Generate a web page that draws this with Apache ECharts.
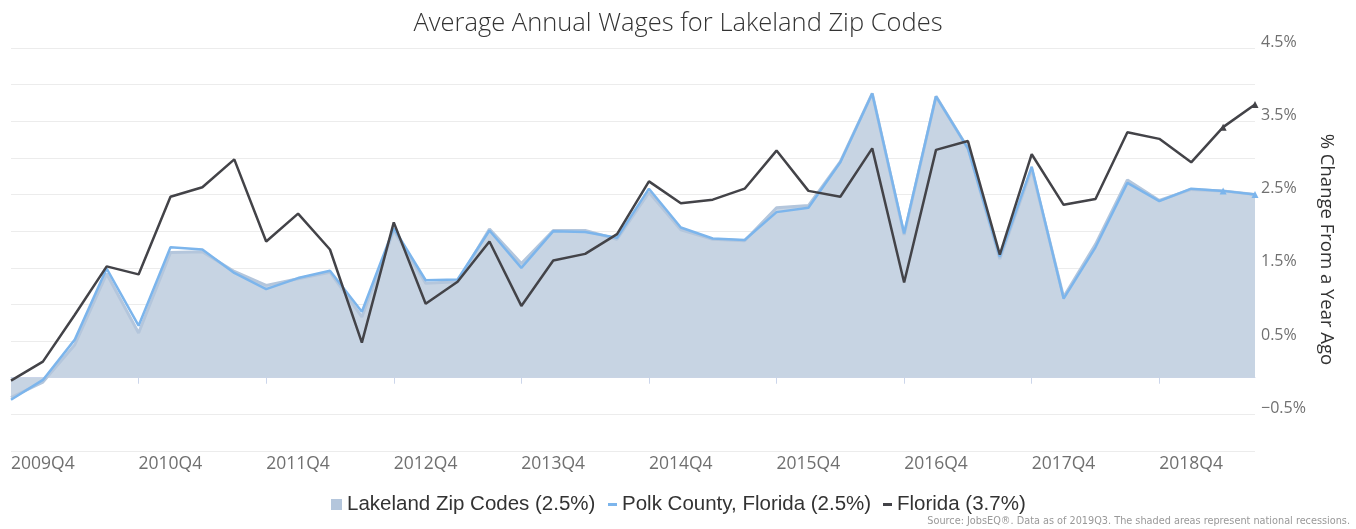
<html lang="en">
<head>
    <meta charset="UTF-8">
    <title>Average Annual Wages</title>
    <script src="https://cdn.jsdelivr.net/npm/echarts@6/dist/echarts.min.js"></script>
    <style type="text/css">
        html, body {
            margin: 0;
            padding: 0;
            background: #fff;
        }
        #main {
            width: 1356px;
            height: 529px;
        }
    </style>
</head>
<body>
<div id="main"></div>
<script>
    var quarters = [];
    for (var y = 2009; y <= 2019; y++) {
        for (var q = 1; q <= 4; q++) {
            if (y === 2009 && q < 4) continue;
            if (y === 2019 && q > 3) continue;
            quarters.push(y + 'Q' + q);
        }
    }

    var lakeland = [-0.27, -0.06, 0.45, 1.42, 0.61, 1.71, 1.72, 1.45, 1.26, 1.35,
        1.44, 0.83, 2.01, 1.29, 1.31, 2.03, 1.56, 2.01, 2.01, 1.89,
        2.53, 2.02, 1.89, 1.87, 2.32, 2.35, 2.95, 3.88, 1.95, 3.84,
        3.13, 1.62, 2.85, 1.10, 1.82, 2.70, 2.42, 2.57, 2.55, 2.50];
    var polk = [-0.30, -0.03, 0.52, 1.49, 0.71, 1.78, 1.75, 1.43, 1.21, 1.36,
        1.46, 0.90, 2.04, 1.33, 1.34, 2.01, 1.50, 2.00, 1.99, 1.91,
        2.58, 2.05, 1.90, 1.88, 2.26, 2.32, 2.94, 3.88, 1.97, 3.84,
        3.13, 1.65, 2.88, 1.08, 1.78, 2.66, 2.41, 2.58, 2.55, 2.50];
    var florida = [-0.04, 0.22, 0.86, 1.52, 1.41, 2.47, 2.60, 2.98, 1.86, 2.24,
        1.75, 0.48, 2.12, 1.01, 1.31, 1.86, 0.98, 1.60, 1.69, 1.96,
        2.68, 2.38, 2.43, 2.58, 3.10, 2.55, 2.47, 3.13, 1.30, 3.11,
        3.23, 1.68, 3.05, 2.36, 2.44, 3.35, 3.26, 2.94, 3.42, 3.73];

    var names = ['Lakeland Zip Codes (2.5%)', 'Polk County, Florida (2.5%)', 'Florida (3.7%)'];

    // last two quarters get a small triangle marker
    function withMarkers(arr) {
        return arr.map(function (v, i) {
            if (i >= arr.length - 2) {
                return {value: v, symbol: 'triangle', symbolSize: 7};
            }
            return v;
        });
    }

    var legendText = {fontFamily: 'Liberation Sans', fontSize: 20.5, color: '#333'};

    var myChart = echarts.init(document.getElementById('main'));
    var option = {
        animation: false,
        title: [{
            text: 'Average Annual Wages for Lakeland Zip Codes',
            left: 'center',
            top: 6,
            textStyle: {
                fontFamily: 'Open Sans',
                fontWeight: 300,
                fontSize: 25.5,
                color: '#333'
            }
        }, {
            text: 'Source: JobsEQ®. Data as of 2019Q3. The shaded areas represent national recessions.',
            right: 1,
            bottom: -3,
            textStyle: {
                fontFamily: 'DejaVu Sans Condensed',
                fontWeight: 'normal',
                fontSize: 10.8,
                color: '#999'
            }
        }],
        legend: [{
            data: [names[0]],
            left: 326,
            top: 489,
            itemWidth: 11,
            itemHeight: 11,
            icon: 'rect',
            textStyle: legendText
        }, {
            data: [names[1]],
            left: 603,
            top: 489,
            itemWidth: 9,
            itemHeight: 3,
            icon: 'rect',
            textStyle: legendText
        }, {
            data: [names[2]],
            left: 878,
            top: 489,
            itemWidth: 9,
            itemHeight: 3,
            icon: 'rect',
            textStyle: legendText
        }],
        grid: {
            left: 11,
            right: 101,
            top: 48,
            bottom: 78
        },
        xAxis: {
            type: 'category',
            boundaryGap: false,
            data: quarters,
            axisLine: {lineStyle: {color: '#ccd6eb'}},
            axisTick: {interval: 3, length: 6, lineStyle: {color: '#ccd6eb'}},
            axisLabel: {
                interval: 3,
                align: 'left',
                margin: 4,
                fontFamily: 'Open Sans',
                fontSize: 17.5,
                color: '#707070'
            },
            splitLine: {show: false}
        },
        yAxis: {
            type: 'value',
            position: 'right',
            min: -1,
            max: 4.5,
            interval: 0.5,
            name: '% Change From a Year Ago',
            nameLocation: 'middle',
            nameRotate: -90,
            nameGap: 61,
            nameTextStyle: {fontFamily: 'Open Sans', fontSize: 18.5, color: '#333'},
            axisLine: {show: false},
            axisTick: {show: false},
            axisLabel: {
                margin: 6,
                verticalAlign: 'bottom',
                lineHeight: 12,
                fontFamily: 'Open Sans',
                fontSize: 16,
                color: '#707070',
                formatter: function (v) {
                    var r = Math.round(v * 10) / 10;
                    if (Math.abs(Math.abs(r % 1) - 0.5) < 0.01) {
                        return (r < 0 ? '\u2212' + Math.abs(r).toFixed(1) : r.toFixed(1)) + '%';
                    }
                    return '';
                }
            },
            splitLine: {lineStyle: {color: '#ececec'}}
        },
        series: [
            {
                name: names[0],
                type: 'line',
                data: lakeland,
                symbol: 'none',
                itemStyle: {color: '#b4c6dc'},
                lineStyle: {color: '#b4c6dc', width: 3},
                areaStyle: {color: '#c7d4e3', opacity: 1},
                z: 1
            },
            {
                name: names[1],
                type: 'line',
                data: withMarkers(polk),
                symbol: 'none',
                itemStyle: {color: '#7cb5ec'},
                lineStyle: {color: '#7cb5ec', width: 2.5},
                z: 2
            },
            {
                name: names[2],
                type: 'line',
                data: withMarkers(florida),
                symbol: 'none',
                itemStyle: {color: '#434348'},
                lineStyle: {color: '#434348', width: 2.5},
                z: 3
            }
        ]
    };
    myChart.setOption(option);
</script>
</body>
</html>
